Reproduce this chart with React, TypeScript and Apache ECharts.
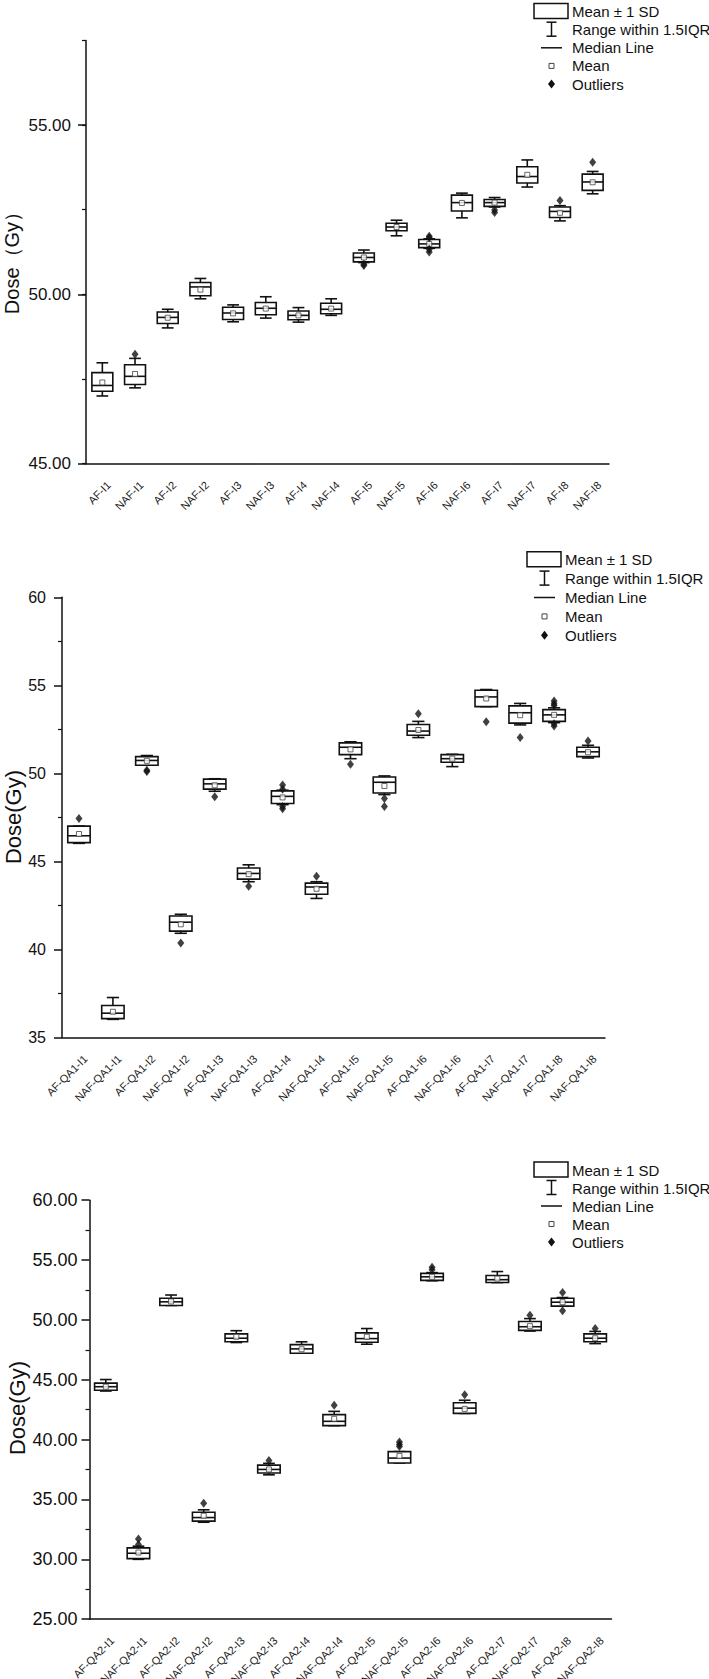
import React, { useEffect, useRef } from 'react';
import * as echarts from 'echarts';

const FONT = 'Arial, "Liberation Sans", Helvetica, sans-serif';

// ---------- Panel 1 ----------
const cats1 = ['AF-I1', 'NAF-I1', 'AF-I2', 'NAF-I2', 'AF-I3', 'NAF-I3', 'AF-I4', 'NAF-I4', 'AF-I5', 'NAF-I5', 'AF-I6', 'NAF-I6', 'AF-I7', 'NAF-I7', 'AF-I8', 'NAF-I8'];
const low1 = [47.0, 47.24, 49.01, 49.87, 49.19, 49.3, 49.18, 49.38, 50.94, 51.73, 51.36, 52.26, 52.58, 53.17, 52.17, 52.97];
const sdLow1 = [47.14, 47.34, 49.14, 49.96, 49.26, 49.4, 49.25, 49.43, 50.96, 51.88, 51.38, 52.46, 52.6, 53.29, 52.27, 53.07];
const median1 = [47.31, 47.58, 49.32, 50.22, 49.45, 49.59, 49.38, 49.56, 51.09, 51.99, 51.49, 52.71, 52.71, 53.48, 52.45, 53.32];
const sdHigh1 = [47.69, 47.92, 49.48, 50.35, 49.62, 49.76, 49.51, 49.74, 51.22, 52.1, 51.62, 52.93, 52.8, 53.77, 52.58, 53.55];
const high1 = [47.98, 48.11, 49.56, 50.47, 49.69, 49.93, 49.61, 49.87, 51.31, 52.19, 51.64, 52.99, 52.86, 53.97, 52.62, 53.63];
const mean1 = [47.4, 47.65, 49.31, 50.14, 49.44, 49.58, 49.38, 49.58, 51.09, 51.99, 51.49, 52.7, 52.71, 53.53, 52.41, 53.31];
const outliers1: [string, number][] = [
  ['NAF-I1', 48.23], ['AF-I5', 50.89], ['AF-I5', 50.85], ['AF-I6', 51.72], ['AF-I6', 51.67],
  ['AF-I6', 51.33], ['AF-I6', 51.25], ['AF-I7', 52.49], ['AF-I7', 52.42], ['AF-I8', 52.77], ['NAF-I8', 53.9],
];
const yTicks1 = [45, 50, 55];
const yRange1 = [45, 57.5];

// ---------- Panel 2 ----------
const cats2 = ['AF-QA1-I1', 'NAF-QA1-I1', 'AF-QA1-I2', 'NAF-QA1-I2', 'AF-QA1-I3', 'NAF-QA1-I3', 'AF-QA1-I4', 'NAF-QA1-I4', 'AF-QA1-I5', 'NAF-QA1-I5', 'AF-QA1-I6', 'NAF-QA1-I6', 'AF-QA1-I7', 'NAF-QA1-I7', 'AF-QA1-I8', 'NAF-QA1-I8'];
const low2 = [46.02, 36.02, 50.46, 40.91, 48.98, 43.84, 48.22, 42.89, 50.83, 48.79, 52.03, 50.38, 53.79, 52.75, 52.88, 50.87];
const sdLow2 = [46.06, 36.06, 50.46, 41.03, 49.1, 43.99, 48.28, 43.13, 51.06, 48.88, 52.16, 50.63, 53.79, 52.85, 52.95, 50.95];
const median2 = [46.45, 36.37, 50.73, 41.54, 49.4, 44.31, 48.69, 43.54, 51.48, 49.49, 52.4, 50.83, 54.34, 53.44, 53.32, 51.22];
const sdHigh2 = [47.0, 36.81, 50.95, 41.89, 49.67, 44.62, 49.0, 43.76, 51.73, 49.79, 52.77, 51.06, 54.72, 53.83, 53.62, 51.48];
const high2 = [47.0, 37.26, 51.01, 41.99, 49.69, 44.8, 49.04, 43.84, 51.79, 49.85, 52.95, 51.08, 54.76, 53.97, 53.72, 51.59];
const mean2 = [46.55, 36.45, 50.71, 41.42, 49.32, 44.27, 48.63, 43.44, 51.36, 49.28, 52.46, 50.83, 54.25, 53.3, 53.32, 51.2];
const outliers2: [string, number][] = [
  ['AF-QA1-I1', 47.43], ['AF-QA1-I2', 50.18], ['AF-QA1-I2', 50.1], ['NAF-QA1-I2', 40.36], ['AF-QA1-I3', 48.67],
  ['NAF-QA1-I3', 43.58], ['AF-QA1-I4', 49.34], ['AF-QA1-I4', 49.1], ['AF-QA1-I4', 48.12], ['AF-QA1-I4', 47.98],
  ['NAF-QA1-I4', 44.15], ['AF-QA1-I5', 50.51], ['NAF-QA1-I5', 48.57], ['NAF-QA1-I5', 48.12], ['AF-QA1-I6', 53.38],
  ['AF-QA1-I7', 52.93], ['NAF-QA1-I7', 52.03], ['AF-QA1-I8', 54.11], ['AF-QA1-I8', 53.95], ['AF-QA1-I8', 53.85],
  ['AF-QA1-I8', 52.81], ['AF-QA1-I8', 52.69], ['NAF-QA1-I8', 51.83],
];
const yTicks2 = [35, 40, 45, 50, 55, 60];

// ---------- Panel 3 ----------
const cats3 = ['AF-QA2-I1', 'NAF-QA2-I1', 'AF-QA2-I2', 'NAF-QA2-I2', 'AF-QA2-I3', 'NAF-QA2-I3', 'AF-QA2-I4', 'NAF-QA2-I4', 'AF-QA2-I5', 'NAF-QA2-I5', 'AF-QA2-I6', 'NAF-QA2-I6', 'AF-QA2-I7', 'NAF-QA2-I7', 'AF-QA2-I8', 'NAF-QA2-I8'];
const low3 = [44.06, 30.0, 51.21, 33.1, 48.11, 37.06, 47.22, 41.17, 47.97, 38.05, 53.27, 42.19, 53.12, 49.07, 51.15, 48.02];
const sdLow3 = [44.12, 30.06, 51.21, 33.19, 48.17, 37.21, 47.22, 41.17, 48.14, 38.05, 53.3, 42.19, 53.12, 49.13, 51.15, 48.17];
const median3 = [44.42, 30.51, 51.51, 33.49, 48.47, 37.51, 47.58, 41.53, 48.44, 38.46, 53.6, 42.63, 53.36, 49.43, 51.48, 48.47];
const sdHigh3 = [44.72, 30.96, 51.81, 33.94, 48.83, 37.87, 47.94, 42.09, 48.92, 39.0, 53.89, 43.08, 53.71, 49.87, 51.81, 48.83];
const high3 = [45.02, 31.1, 52.08, 34.14, 49.1, 38.02, 48.17, 42.36, 49.28, 39.0, 53.95, 43.29, 54.04, 50.11, 51.87, 49.04];
const mean3 = [44.42, 30.57, 51.54, 33.64, 48.59, 37.51, 47.55, 41.74, 48.59, 38.64, 53.6, 42.57, 53.45, 49.48, 51.48, 48.47];
const outliers3: [string, number][] = [
  ['NAF-QA2-I1', 31.7], ['NAF-QA2-I1', 31.25], ['NAF-QA2-I2', 34.68], ['NAF-QA2-I3', 38.25], ['NAF-QA2-I4', 42.87],
  ['NAF-QA2-I5', 39.8], ['NAF-QA2-I5', 39.59], ['NAF-QA2-I5', 39.42], ['AF-QA2-I6', 54.4], ['AF-QA2-I6', 54.19],
  ['NAF-QA2-I6', 43.74], ['NAF-QA2-I7', 50.38], ['AF-QA2-I8', 52.28], ['AF-QA2-I8', 50.77], ['NAF-QA2-I8', 49.28],
];
const yTicks3 = [25, 30, 35, 40, 45, 50, 55, 60];

const legendLabels = ['Mean \u00b1 1 SD', 'Range within 1.5IQR', 'Median Line', 'Mean', 'Outliers'];

const INK = '#111';

function makeBoxRender(boxRatio: number, capRatio: number) {
  return (params: any, api: any) => {
    const k = api.value(0);
    const pLow = api.coord([k, api.value(1)]);
    const pQ1 = api.coord([k, api.value(2)]);
    const pMed = api.coord([k, api.value(3)]);
    const pQ3 = api.coord([k, api.value(4)]);
    const pHigh = api.coord([k, api.value(5)]);
    const band = api.size([1, 0])[0];
    const bw = band * boxRatio;
    const cw = band * capRatio;
    const cx = pQ1[0];
    const st = { stroke: INK, lineWidth: 1.6, fill: null };
    return {
      type: 'group',
      children: [
        { type: 'line', shape: { x1: cx, y1: pQ3[1], x2: cx, y2: pHigh[1] }, style: st },
        { type: 'line', shape: { x1: cx - cw / 2, y1: pHigh[1], x2: cx + cw / 2, y2: pHigh[1] }, style: st },
        { type: 'line', shape: { x1: cx, y1: pQ1[1], x2: cx, y2: pLow[1] }, style: st },
        { type: 'line', shape: { x1: cx - cw / 2, y1: pLow[1], x2: cx + cw / 2, y2: pLow[1] }, style: st },
        { type: 'rect', shape: { x: cx - bw / 2, y: pQ3[1], width: bw, height: pQ1[1] - pQ3[1] }, style: { stroke: INK, lineWidth: 1.6, fill: '#fff' } },
        { type: 'line', shape: { x1: cx - bw / 2, y1: pMed[1], x2: cx + bw / 2, y2: pMed[1] }, style: st },
      ],
    };
  };
}

// Category labels, rotated 45°, placed at each category's tick via the axis scale.
function labelSeries(idx: number, cats: string[], yMin: number) {
  return {
    type: 'custom',
    xAxisIndex: idx,
    yAxisIndex: idx,
    silent: true,
    clip: false,
    encode: { x: 0, y: 1 },
    data: cats.map((c, k) => [k, yMin]),
    renderItem: (params: any, api: any) => {
      const k = api.value(0);
      const p = api.coord([k, api.value(1)]);
      return {
        type: 'text',
        x: p[0] + 6.5,
        y: p[1] + 19.5,
        rotation: Math.PI / 4,
        style: { text: cats[k], align: 'right', verticalAlign: 'middle', fontSize: 11, fontFamily: FONT, fill: '#222' },
      };
    },
  };
}

function panelSeries(idx: number, cats: string[], low: number[], q1: number[], med: number[], q3: number[], high: number[], mean: number[], outs: [string, number][], boxRatio: number, yMin: number) {
  return [
    {
      type: 'custom',
      xAxisIndex: idx,
      yAxisIndex: idx,
      renderItem: makeBoxRender(boxRatio, 0.36),
      encode: { x: 0, y: [1, 2, 3, 4, 5] },
      data: cats.map((c, k) => [k, low[k], q1[k], med[k], q3[k], high[k]]),
      z: 2,
    },
    {
      type: 'scatter',
      xAxisIndex: idx,
      yAxisIndex: idx,
      symbol: 'rect',
      symbolSize: 5,
      itemStyle: { color: '#fff', borderColor: '#444', borderWidth: 1 },
      data: cats.map((c, k) => [k, mean[k]]),
      z: 4,
    },
    {
      type: 'scatter',
      xAxisIndex: idx,
      yAxisIndex: idx,
      symbol: 'diamond',
      symbolSize: [7, 9],
      itemStyle: { color: INK },
      data: outs.map(([c, v]) => [cats.indexOf(c), v]),
      z: 5,
    },
    labelSeries(idx, cats, yMin),
  ];
}

function legendGraphic(bx: number, by: number, step: number) {
  const rows = [0, 1, 2, 3, 4].map((i) => by + 8 + i * step);
  const cx = bx + 17.5;
  const ls = { stroke: INK, lineWidth: 1.5 };
  const els: any[] = [
    { type: 'rect', shape: { x: bx, y: by, width: 34, height: 15 }, style: { fill: 'none', stroke: INK, lineWidth: 1.5 } },
    { type: 'line', shape: { x1: cx, y1: rows[1] - 7.5, x2: cx, y2: rows[1] + 6.5 }, style: ls },
    { type: 'line', shape: { x1: cx - 5, y1: rows[1] - 7.5, x2: cx + 5, y2: rows[1] - 7.5 }, style: ls },
    { type: 'line', shape: { x1: cx - 5, y1: rows[1] + 6.5, x2: cx + 5, y2: rows[1] + 6.5 }, style: ls },
    { type: 'line', shape: { x1: bx + 7, y1: rows[2], x2: bx + 28, y2: rows[2] }, style: ls },
    { type: 'rect', shape: { x: cx - 2.5, y: rows[3] - 2.5, width: 5, height: 5 }, style: { fill: '#fff', stroke: '#444', lineWidth: 1 } },
    { type: 'polygon', shape: { points: [[cx, rows[4] - 4.5], [cx + 3.5, rows[4]], [cx, rows[4] + 4.5], [cx - 3.5, rows[4]]] }, style: { fill: INK } },
  ];
  legendLabels.forEach((t, i) => {
    els.push({ type: 'text', x: bx + 38, y: rows[i], style: { text: t, fontSize: 15, fontFamily: FONT, fill: INK, align: 'left', verticalAlign: 'middle' } });
  });
  return els;
}

function xAxisFor(idx: number, cats: string[]) {
  return {
    type: 'category',
    gridIndex: idx,
    data: cats,
    boundaryGap: true,
    axisLine: { lineStyle: { color: INK, width: 1.5 } },
    axisTick: { alignWithLabel: true, interval: 0, length: 8, lineStyle: { color: INK, width: 1.5 } },
    axisLabel: { show: false, interval: 0 },
    splitLine: { show: false },
  };
}

export default function App() {
  const ref = useRef<HTMLDivElement>(null);
  useEffect(() => {
    if (!ref.current) return;
    const chart = echarts.init(ref.current, undefined, { renderer: 'svg' });
    const axisLine = { show: true, lineStyle: { color: INK, width: 1.5 } };
    const majorTick = { show: true, length: 8, lineStyle: { color: INK, width: 1.5 } };
    const minorTick = { show: true, splitNumber: 2, length: 4, lineStyle: { color: INK, width: 1.2 } };
    const option: any = {
      animation: false,
      backgroundColor: '#fff',
      grid: [
        { left: 86, top: 40.4, width: 523, height: 423.3 },
        { left: 62, top: 597.3, width: 543, height: 440 },
        { left: 89.5, top: 1200.2, width: 522, height: 419 },
      ],
      xAxis: [xAxisFor(0, cats1), xAxisFor(1, cats2), xAxisFor(2, cats3)],
      yAxis: [
        {
          type: 'value', gridIndex: 0, position: 'left', min: yRange1[0], max: yRange1[1], interval: 5,
          axisLine, axisTick: { ...majorTick, customValues: yTicks1 },
          axisLabel: { customValues: yTicks1, fontSize: 17, color: INK, margin: 15, fontFamily: FONT, formatter: (v: number) => v.toFixed(2) },
          splitLine: { show: false },
        },
        {
          type: 'value', gridIndex: 1, position: 'left', min: yTicks2[0], max: yTicks2[yTicks2.length - 1], interval: 5,
          axisLine, axisTick: majorTick, minorTick,
          axisLabel: { fontSize: 16, color: INK, margin: 16, fontFamily: FONT, formatter: (v: number) => String(v) },
          splitLine: { show: false }, minorSplitLine: { show: false },
        },
        {
          type: 'value', gridIndex: 2, position: 'left', min: yTicks3[0], max: yTicks3[yTicks3.length - 1], interval: 5,
          axisLine, axisTick: majorTick, minorTick,
          axisLabel: { fontSize: 18, color: INK, margin: 12, fontFamily: FONT, formatter: (v: number) => v.toFixed(2) },
          splitLine: { show: false }, minorSplitLine: { show: false },
        },
        {
          type: 'value', gridIndex: 0, position: 'left', min: yRange1[0], max: yRange1[1], interval: 2.5,
          axisLine: { show: false }, axisTick: { show: true, length: 4, lineStyle: { color: INK, width: 1.2 } },
          axisLabel: { show: false }, splitLine: { show: false },
        },
      ],
      series: [
        ...panelSeries(0, cats1, low1, sdLow1, median1, sdHigh1, high1, mean1, outliers1, 0.64, yRange1[0]),
        ...panelSeries(1, cats2, low2, sdLow2, median2, sdHigh2, high2, mean2, outliers2, 0.66, yTicks2[0]),
        ...panelSeries(2, cats3, low3, sdLow3, median3, sdHigh3, high3, mean3, outliers3, 0.69, yTicks3[0]),
      ],
      graphic: [
        ...legendGraphic(534, 3.6, 18.1),
        ...legendGraphic(527, 551.7, 18.9),
        ...legendGraphic(534, 1162, 18),
        { type: 'text', x: 12, y: 258, rotation: Math.PI / 2, style: { text: 'Dose\uff08Gy\uff09', fontSize: 20, fontFamily: FONT, fill: INK, align: 'center', verticalAlign: 'middle' } },
        { type: 'text', x: 13, y: 817, rotation: Math.PI / 2, style: { text: 'Dose(Gy)', fontSize: 22, fontFamily: FONT, fill: INK, align: 'center', verticalAlign: 'middle' } },
        { type: 'text', x: 17, y: 1408, rotation: Math.PI / 2, style: { text: 'Dose(Gy)', fontSize: 22, fontFamily: FONT, fill: INK, align: 'center', verticalAlign: 'middle' } },
      ],
    };
    chart.setOption(option);
    return () => chart.dispose();
  }, []);
  return <div ref={ref} style={{ position: 'absolute', left: 0, top: 0, width: 709, height: 1679, background: '#fff' }} />;
}
